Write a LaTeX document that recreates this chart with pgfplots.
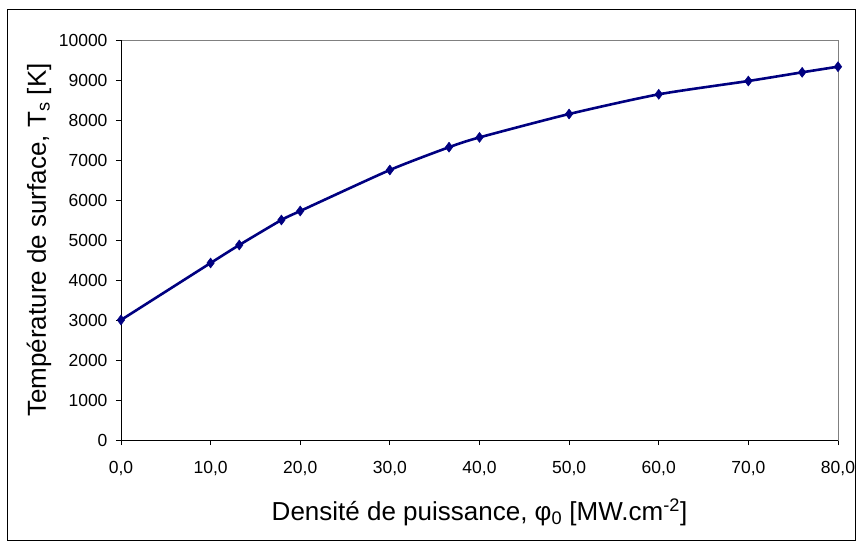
\documentclass[border=0pt]{standalone}
\usepackage{fontspec}
\setmainfont{Liberation Sans}
\usepackage{pgfplots}
\pgfplotsset{compat=1.18}
\definecolor{navyline}{RGB}{0,0,128}
\definecolor{framegray}{RGB}{128,128,128}
\begin{document}
\begin{tikzpicture}
\useasboundingbox (-121bp,-102bp) rectangle (736bp,440bp);
\draw[black, line width=1bp] (-113bp,-100bp) rectangle (734bp,430bp);
\begin{axis}[
  at={(0,0)}, anchor=south west,
  scale only axis, width=717bp, height=400bp,
  xmin=0, xmax=80, ymin=0, ymax=10000,
  xtick={0,10,...,80}, ytick={0,1000,...,10000},
  scaled y ticks=false,
  axis line style={framegray, line width=0.8bp},
  tick align=outside, xtick pos=left, ytick pos=left,
  major tick length=5bp,
  tick style={black, line width=0.8bp},
  /pgf/number format/assume math mode=true,
  xticklabel={\pgfmathprintnumber[fixed,fixed zerofill,precision=1,use comma]{\tick}},
  yticklabel={\pgfmathprintnumber[fixed,precision=0,1000 sep={}]{\tick}},
  yticklabel style={font=\fontsize{17.5bp}{20bp}\selectfont, xshift=-5bp},
  xticklabel style={font=\fontsize{17.5bp}{20bp}\selectfont, yshift=-13bp},
  xlabel={Densité de puissance, φ\textsubscript{0} [MW.cm\textsuperscript{-2}]},
  ylabel={Température de surface, T\textsubscript{s} [K]},
  xlabel style={font=\fontsize{26bp}{30bp}\selectfont, at={(axis description cs:0.5,0)}, anchor=base, yshift=-80bp, inner sep=0pt},
  ylabel style={font=\fontsize{26bp}{30bp}\selectfont, at={(axis description cs:-0.097,0.5)}, anchor=south, inner sep=0pt},
]
\addplot[navyline, line width=2.6bp, smooth, tension=0.4, mark=diamond*, mark size=5bp, mark options={fill=navyline, draw=navyline, line width=0.5bp}] coordinates {
 (0,3000) (10,4425) (13.2,4875) (17.9,5500) (20,5725) (30,6750) (36.6,7320) (40,7565) (50,8150) (60,8642) (70,8975) (76,9192) (80,9333)
};
\draw[black, line width=0.8bp] (rel axis cs:0,0) -- (rel axis cs:0,1);
\draw[black, line width=0.8bp] (rel axis cs:0,0) -- (rel axis cs:1,0);
\end{axis}
\end{tikzpicture}
\end{document}
